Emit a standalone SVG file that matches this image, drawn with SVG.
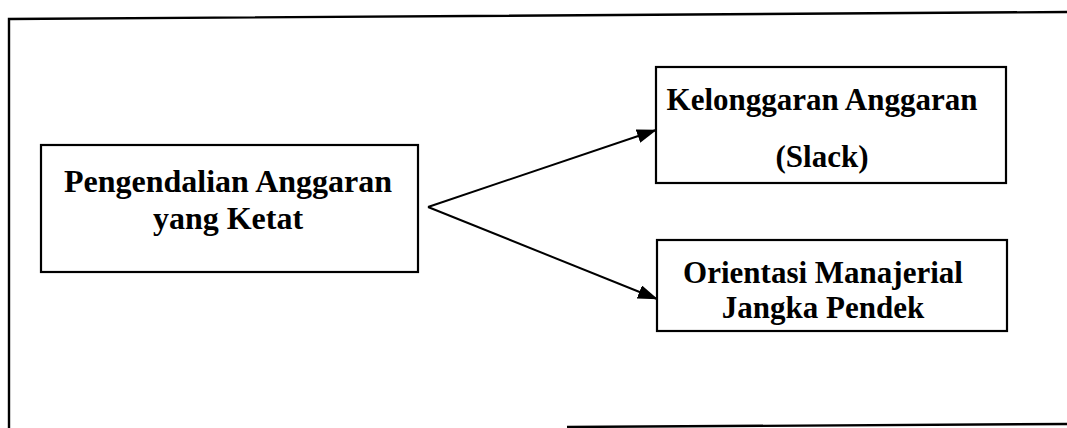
<svg xmlns="http://www.w3.org/2000/svg" width="1067" height="428" viewBox="0 0 1067 428">
<style>
.box{fill:#fff;stroke:#000;stroke-width:2.2}
.frame{fill:none;stroke:#000;stroke-width:2.4}
.t{font-family:"Liberation Serif","Times New Roman",serif;font-weight:bold;font-size:32px;fill:#000;text-anchor:middle}
.r{font-size:31px}
.conn{stroke:#000;stroke-width:2;fill:none}
</style>
<defs>
<marker id="ah" markerWidth="20" markerHeight="14" refX="19" refY="7" orient="auto" markerUnits="userSpaceOnUse">
<path d="M0,0 L20,7 L0,14 Z" fill="#000"/>
</marker>
</defs>
<rect width="1067" height="428" fill="#fff"/>
<g id="frame">
<path class="frame" d="M9,428 L9,19 L1067,12"/>
<path class="frame" d="M567,427 L1067,424"/>
</g>
<g id="node-pengendalian">
<rect class="box" x="41" y="145" width="377" height="127"/>
<text class="t" x="228" y="192">Pengendalian Anggaran</text>
<text class="t" x="228" y="229">yang Ketat</text>
</g>
<g id="node-kelonggaran">
<rect class="box" x="656" y="67" width="350" height="116"/>
<text class="t r" x="822" y="110">Kelonggaran Anggaran</text>
<text class="t r" x="822" y="167">(Slack)</text>
</g>
<g id="node-orientasi">
<rect class="box" x="657" y="240" width="350" height="91"/>
<text class="t r" x="823" y="283">Orientasi Manajerial</text>
<text class="t r" x="823" y="318">Jangka Pendek</text>
</g>
<g id="connectors">
<line class="conn" x1="428" y1="207" x2="656" y2="130" marker-end="url(#ah)"/>
<line class="conn" x1="428" y1="207" x2="657" y2="299" marker-end="url(#ah)"/>
</g>
</svg>
